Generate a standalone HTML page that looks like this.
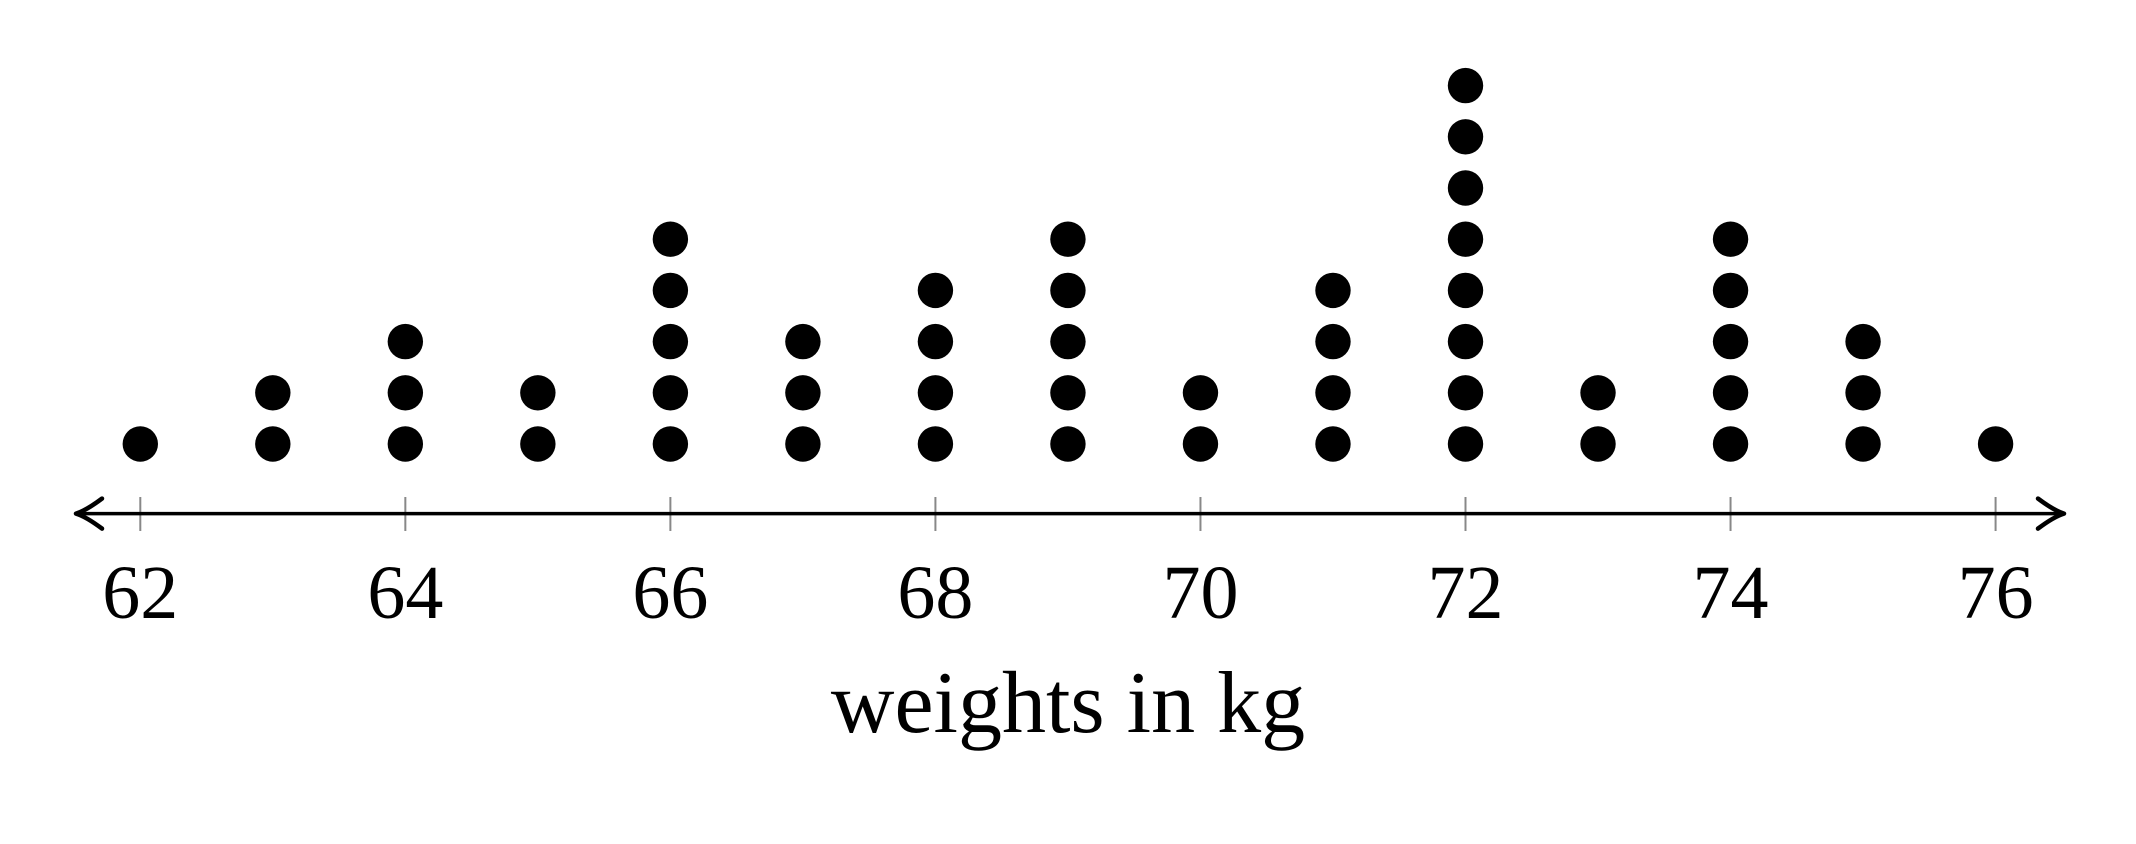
<!DOCTYPE html>
<html><head><meta charset="utf-8"><style>
html,body{margin:0;padding:0;background:#fff;}
svg{display:block;}
text{font-family:"Liberation Serif",serif;fill:#000;}
</style></head><body>
<svg id="chart" width="2136" height="844" viewBox="0 0 2136 844" xmlns="http://www.w3.org/2000/svg"></svg>
<script>
const categories = [62,63,64,65,66,67,68,69,70,71,72,73,74,75,76];
const counts = [1,2,3,2,5,3,4,5,2,4,8,2,5,3,1];
const tickLabels = [62,64,66,68,70,72,74,76];
const axisTitle = "weights in kg";

const NS = "http://www.w3.org/2000/svg";
const svg = document.getElementById('chart');
const x0 = 140.3, unit = 132.52, axisY = 513.6;
const xScale = v => x0 + (v - 62) * unit;
const yScale = i => 444 - i * 51.2;
function mk(tag, attrs){const e=document.createElementNS(NS,tag);for(const k in attrs)e.setAttribute(k,attrs[k]);svg.appendChild(e);return e;}

// ticks
tickLabels.forEach(v => {
  const t = mk('line',{x1:xScale(v),x2:xScale(v),y1:497,y2:531,stroke:'#888','stroke-width':2});
  
  
});
// axis
const ax = mk('line',{x1:80,x2:2058,y1:axisY,y2:axisY,stroke:'#000','stroke-width':3.5});


const la = mk('path',{d:`M102 ${axisY-15} Q86 ${axisY-3} 76 ${axisY} Q86 ${axisY+3} 102 ${axisY+15}`,fill:'none',stroke:'#000','stroke-width':4.5,'stroke-linecap':'round','stroke-linejoin':'round'});


const ra = mk('path',{d:`M2038 ${axisY-15} Q2054 ${axisY-3} 2064 ${axisY} Q2054 ${axisY+3} 2038 ${axisY+15}`,fill:'none',stroke:'#000','stroke-width':4.5,'stroke-linecap':'round','stroke-linejoin':'round'});



// labels
tickLabels.forEach(v => {
  const t = mk('text',{x:xScale(v),y:618,'text-anchor':'middle','font-size':76});
  t.textContent = v;
  
  
});
const title = mk('text',{x:1068,y:732,'text-anchor':'middle','font-size':88});
title.textContent = axisTitle;



// dots
categories.forEach((c, ci) => {
  for (let i = 0; i < counts[ci]; i++) {
    const d = mk('circle',{cx:xScale(c),cy:yScale(i),r:17.7,fill:'#000'});
    
    
  }
});
</script>
</body></html>
